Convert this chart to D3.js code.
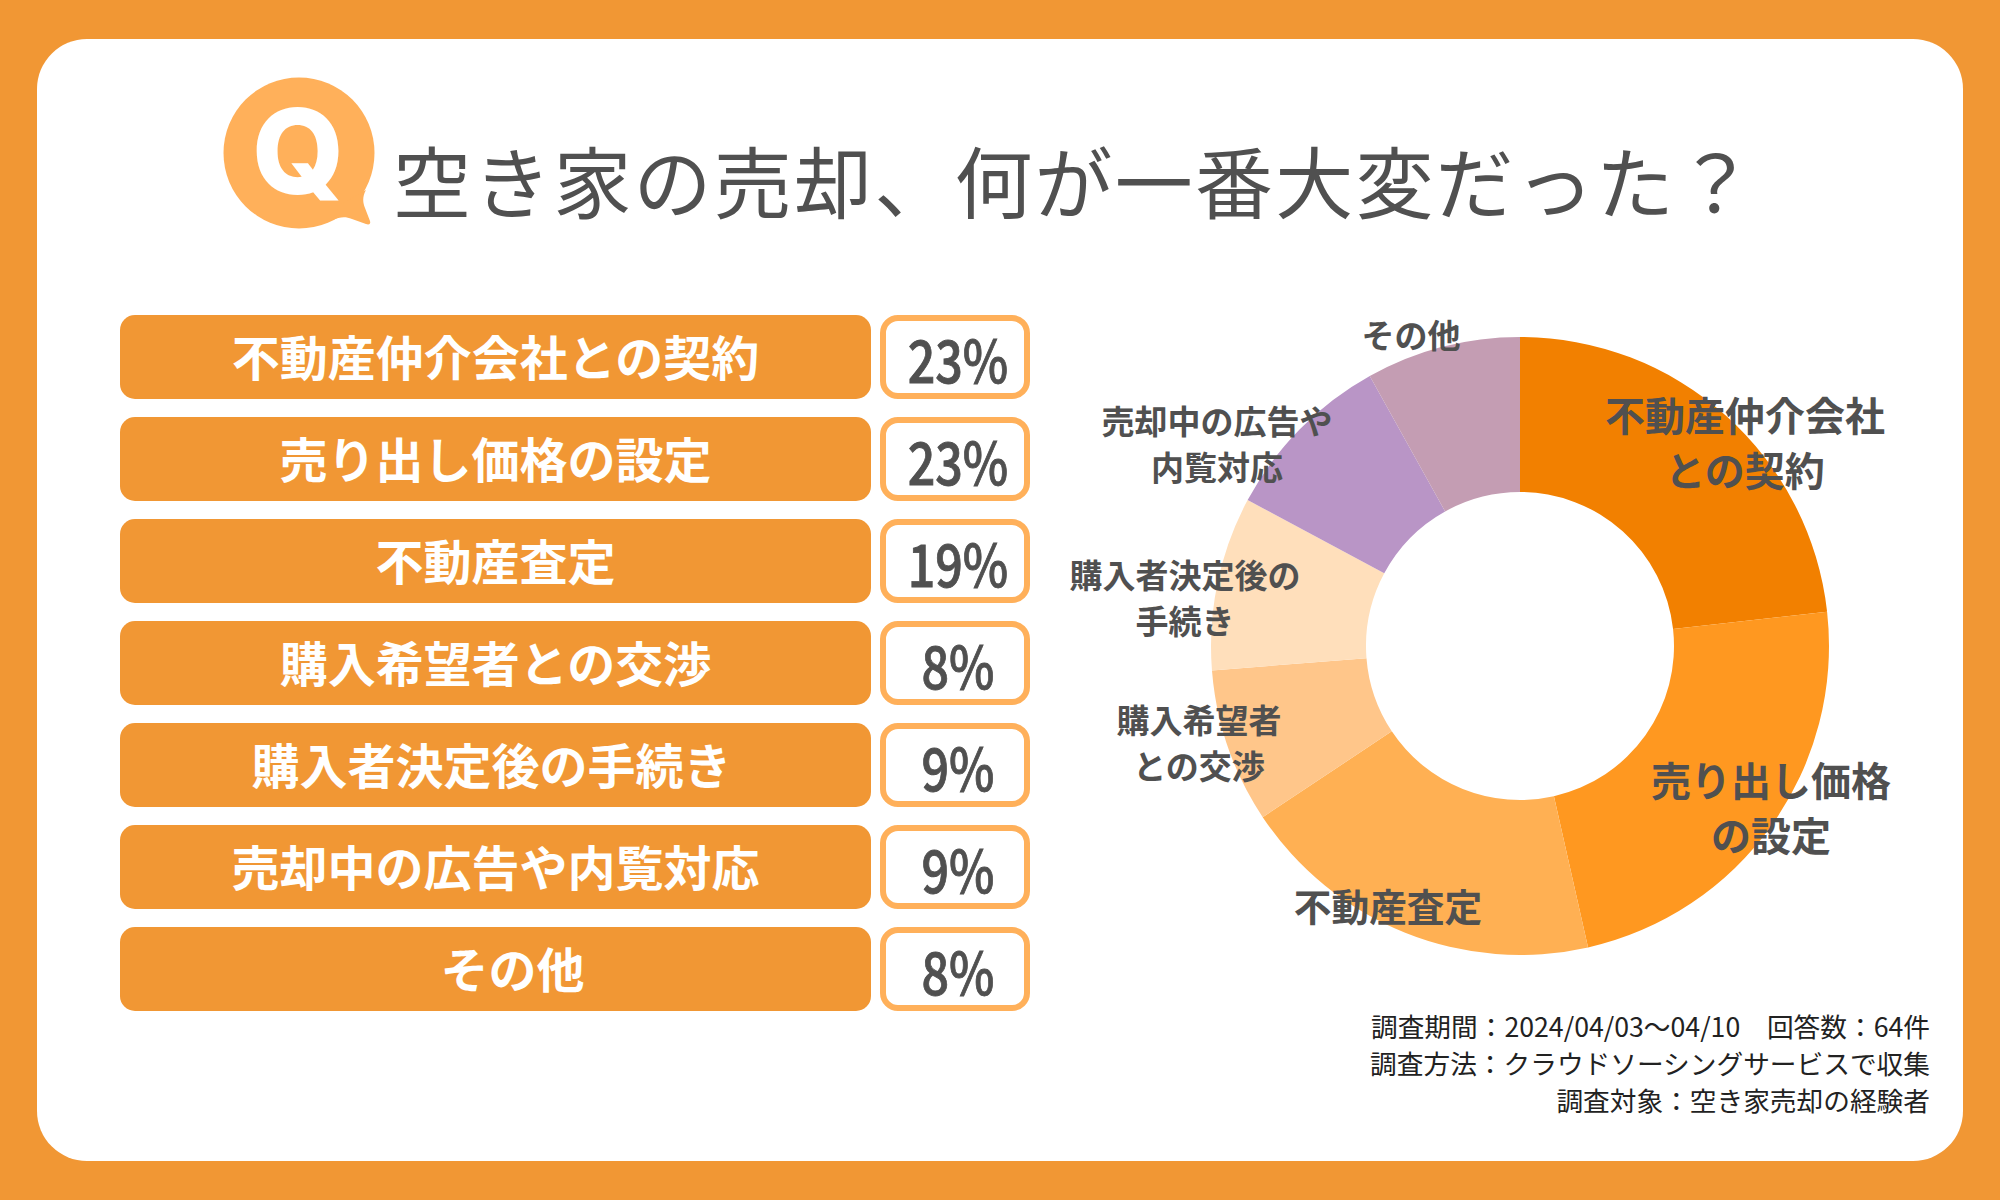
<!DOCTYPE html>
<html><head><meta charset="utf-8">
<script src="https://cdn.jsdelivr.net/npm/d3@7"></script>
<style>html,body{margin:0;padding:0;background:#F19734}svg{display:block}text{font-family:"Noto Sans CJK JP",sans-serif}</style>
</head><body><svg id="c" width="2000" height="1200"></svg>
<script>
const titleText = "空き家の売却、何が一番大変だった？";
const categories = ["不動産仲介会社との契約","売り出し価格の設定","不動産査定","購入希望者との交渉","購入者決定後の手続き","売却中の広告や内覧対応","その他"];
const values = [23,23,19,8,9,9,8];
const pieLabels = [["不動産仲介会社","との契約"],["売り出し価格","の設定"],["不動産査定"],["購入希望者","との交渉"],["購入者決定後の","手続き"],["売却中の広告や","内覧対応"],["その他"]];
const sliceColors = ["#F28000","#FF9820","#FFB053","#FFC68A","#FFDFBB","#B995C6","#C49DB3"];
const notes = ["調査期間：2024/04/03～04/10　回答数：64件","調査方法：クラウドソーシングサービスで収集","調査対象：空き家売却の経験者"];

const svg = d3.select("#c");
const ORANGE="#F19734", LIGHT="#FFB05A", GREY="#505050";
svg.append("rect").attr("width",2000).attr("height",1200).attr("fill",ORANGE);
svg.append("rect").attr("x",37).attr("y",39).attr("width",1926).attr("height",1122).attr("rx",50).attr("fill","#fff");

// Q icon
const q = svg.append("g");
q.append("circle").attr("cx",299).attr("cy",153).attr("r",75.5).attr("fill",LIGHT);
q.append("path").attr("fill",LIGHT).attr("d","M340,205 L366,190 C362,197 363,203 365,208 L370,221 C371,224 369,225 366,224 L352,219 C345,216 340,217 332,220 Z");
q.append("text").attr("transform","translate(298,194)").attr("text-anchor","middle").attr("font-size",118).attr("font-weight",800).style("font-family","Inter").attr("fill","#fff").text("Q");

// Title
svg.append("text").attr("x",393).attr("y",213).attr("font-size",78).attr("letter-spacing",2.2).attr("fill",GREY).text(titleText);

// Bars
const labelShift = [0,0,0,0,-4,0,17];
const y = d3.scaleBand().domain(categories).range([315,1011]).paddingInner(18/102).paddingOuter(0);
const barH = y.bandwidth();
const row = svg.append("g").selectAll("g").data(categories).join("g")
 .attr("transform",d=>`translate(0,${y(d)})`);
row.append("rect").attr("x",120).attr("width",751).attr("height",barH).attr("rx",15).attr("fill",ORANGE);
row.append("text").attr("x",(d,i)=>495.5+labelShift[i]).attr("y",60.5).attr("text-anchor","middle").attr("font-size",48).attr("font-weight",700).attr("fill","#fff").text(d=>d);
row.append("rect").attr("x",883).attr("y",3).attr("width",144).attr("height",barH-6).attr("rx",15).attr("fill","#fff").attr("stroke",LIGHT).attr("stroke-width",6);
row.append("text").attr("transform","translate(958,68) scale(0.82,1)").attr("text-anchor","middle").attr("font-size",59).attr("font-weight",500).attr("fill",GREY).attr("stroke",GREY).attr("stroke-width",0.9)
 .text((d,i)=>values[i]+"%");

// Donut
const pie = d3.pie().sort(null).value(d=>d)(values);
const arc = d3.arc().innerRadius(154).outerRadius(309);
const cg = svg.append("g").attr("transform","translate(1520,646)");
cg.selectAll("path").data(pie).join("path").attr("d",arc).attr("fill",(d,i)=>sliceColors[i]);

const labelPos = [[1745,431,40],[1771,796,40],[1388,921,37.7],[1199,733,33],[1185,588,33],[1217,434,33],[1411,348,33]];
const lg = svg.append("g");
pieLabels.forEach((lines,i)=>{
  const [lx,ly,fs]=labelPos[i];
  const lh = fs===33?46:55;
  lines.forEach((t,j)=>{
    lg.append("text").attr("x",lx).attr("y",ly+j*lh).attr("text-anchor","middle").attr("font-size",fs).attr("font-weight",700).attr("fill",GREY).text(t);
  });
});

// Notes
svg.append("g").selectAll("text").data(notes).join("text").attr("x",1930).attr("y",(d,i)=>1037+i*37)
 .attr("text-anchor","end").attr("font-size",26.7).attr("fill","#222").text(d=>d);
</script></body></html>
